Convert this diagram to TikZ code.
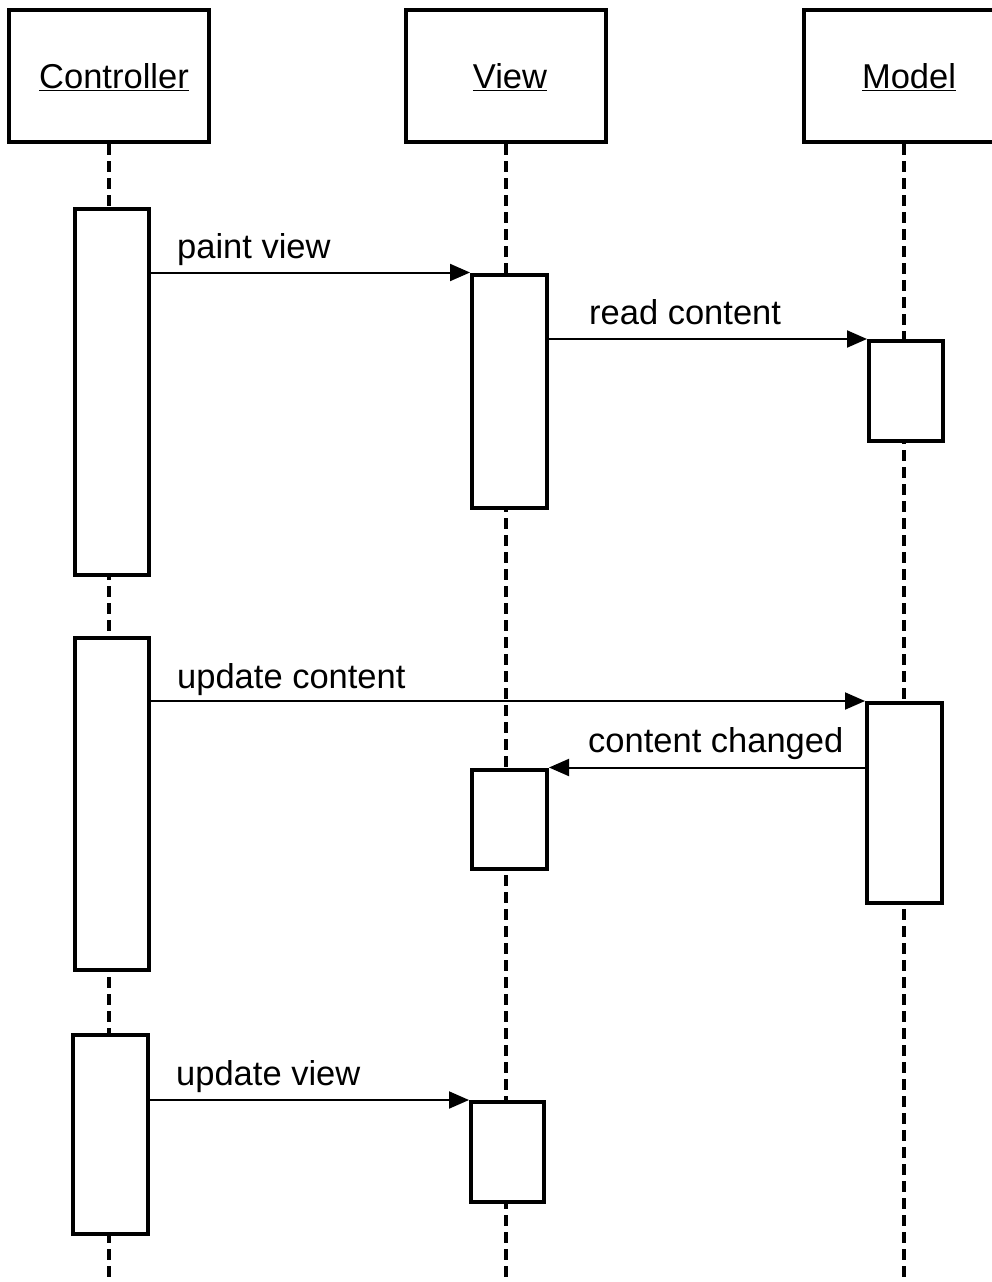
\documentclass[tikz,border=0pt]{standalone}
\usepackage{fontspec}
\setmainfont{Liberation Sans}
\usetikzlibrary{arrows.meta}
\begin{document}
\begin{tikzpicture}[x=1pt,y=-1pt,
  every node/.style={font=\fontsize{34.5pt}{40pt}\selectfont},
  header/.style={draw,line width=4pt,fill=white,minimum width=200pt,minimum height=132pt,inner sep=0pt},
  act/.style={draw,line width=4pt,fill=white,inner sep=0pt},
  life/.style={line width=3.5pt,dash pattern=on 11pt off 6pt},
  msg/.style={line width=2pt,-{Triangle[length=20pt,width=17pt]}},
  lbl/.style={anchor=base west,inner sep=0pt}]
\useasboundingbox (0,0) rectangle (992,1282);
\fill[white] (0,0) rectangle (992,1282);
\coordinate (bottom) at (0,1290);
% headers
\node[header,label={[xshift=5pt,yshift=-1.5pt]center:\underline{Controller}}] (ctrl) at (109,76) {};
\node[header,label={[xshift=4pt,yshift=-1.5pt]center:\underline{View}}] (view) at (506,76) {};
\node[header,label={[xshift=5pt,yshift=-1.5pt]center:\underline{Model}}] (model) at (904,76) {};
% lifelines
\draw[life] (ctrl.south) -- (ctrl.south |- bottom);
\draw[life] (view.south) -- (view.south |- bottom);
\draw[life] (model.south) -- (model.south |- bottom);
% activations
\node[act,minimum width=74pt,minimum height=366pt] (c1) at (112,392) {};
\node[act,minimum width=74pt,minimum height=332pt] (c2) at (112,804) {};
\node[act,minimum width=75pt,minimum height=199pt] (c3) at (110.5,1134.5) {};
\node[act,minimum width=75pt,minimum height=233pt] (v1) at (509.5,391) {};
\node[act,minimum width=75pt,minimum height=99pt] (v2) at (509.5,819) {};
\node[act,minimum width=73pt,minimum height=100pt] (v3) at (507.5,1152) {};
\node[act,minimum width=74pt,minimum height=100pt] (m1) at (906,391) {};
\node[act,minimum width=75pt,minimum height=200pt] (m2) at (904.5,803) {};
% messages
\draw[msg] (c1.east |- v1.north) -- (v1.north west);
\draw[msg] (v1.east |- m1.north) -- (m1.north west);
\draw[msg] (c2.east |- m2.north) -- (m2.north west);
\draw[msg] (m2.west |- v2.north) -- (v2.north east);
\draw[msg] (c3.east |- v3.north) -- (v3.north west);
% labels
\node[lbl] (l1) at (177,258) {paint view};
\node[lbl] (l2) at (589,324) {read content};
\node[lbl] (l3) at (177,688) {update content};
\node[lbl] (l4) at (588,752) {content changed};
\node[lbl] (l5) at (176,1085) {update view};
\end{tikzpicture}
\end{document}
